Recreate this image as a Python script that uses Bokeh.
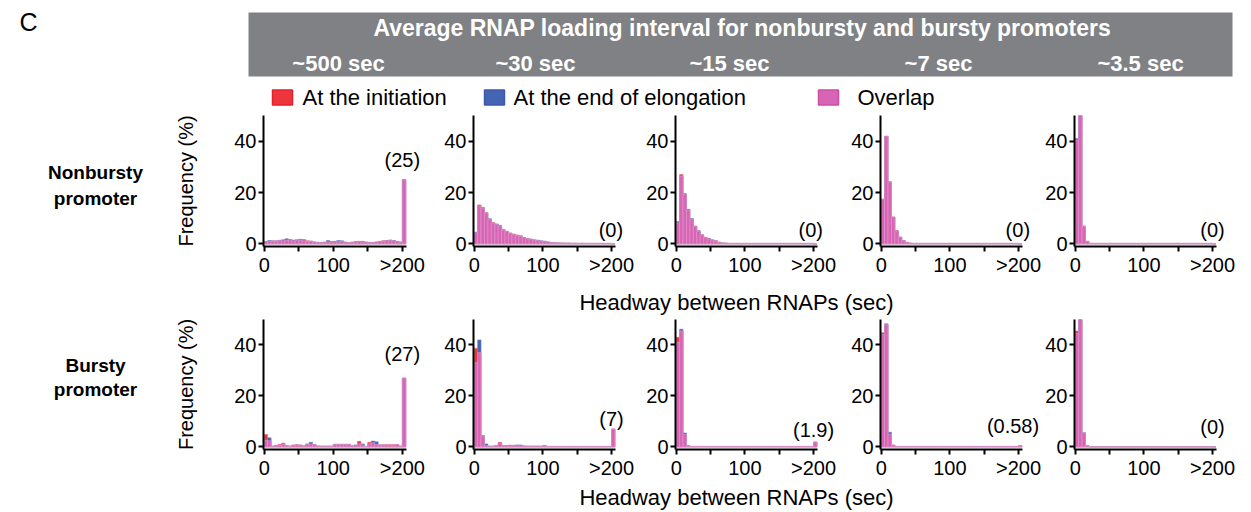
import numpy as np
from bokeh.plotting import figure
from bokeh.layouts import row, column
from bokeh.models import Range1d, FixedTicker, Label
from bokeh.embed import file_html
from bokeh.resources import INLINE
from bokeh.core.properties import value

FONT = "Liberation Sans"
RED = "#ee343c"
BLUE = "#4565b4"
PINK = "#d865b3"

# ---------------- data ----------------
bin_left = list(range(0, 205, 5))          # 5-sec bins, last bin = ">200"
x_tick_values = [0, 50, 100, 150, 200]
x_tick_labels = ["0", "", "100", "", ">200"]
y_tick_values = [0, 20, 40]

header_title = "Average RNAP loading interval  for nonbursty and bursty promoters"
loading_intervals = ["~500 sec", "~30 sec", "~15 sec", "~7 sec", "~3.5 sec"]
promoter_rows = [["Nonbursty", "promoter"], ["Bursty", "promoter"]]
legend_labels = ["At the initiation", "At the end of elongation", "Overlap"]
x_label = "Headway between RNAPs (sec)"
y_label = "Frequency (%)"

# nonbursty promoter, initiation (red) and end of elongation (blue), % per bin
nb500_init = [0.8,1.0,1.2,1.0,1.3,1.2,1.5,1.6,1.2,1.4,1.8,1.7,1.2,1.0,0.8,0.6,0.6,0.7,0.8,0.7,
              0.8,0.9,0.9,0.6,0.5,0.7,0.9,1.0,1.0,0.8,0.6,0.6,0.7,1.0,1.2,1.3,1.5,1.2,0.8,0.6,25.0]
nb500_end  = [0.9,1.3,1.1,1.2,1.4,1.6,2.0,1.7,1.5,1.6,1.3,1.2,1.0,1.1,0.7,0.6,0.5,0.6,1.3,0.9,
              1.0,1.3,1.2,0.7,0.5,0.6,0.8,0.9,0.7,0.6,0.5,0.4,0.7,0.9,1.1,1.2,1.4,1.3,1.0,0.8,25.0]
nb30_init  = [4.4,15.2,14.0,12.2,9.6,8.3,7.6,6.8,5.6,4.8,4.3,3.7,3.5,3.2,2.4,2.1,1.8,1.6,1.5,1.1,
              0.9,0.7,0.6,0.5,0.4,0.4,0.3,0.3,0.3,0.2,0.2,0.3,0.2,0.2,0.2,0.2,0.2,0.2,0.2,0.2,0.0]
nb30_end   = [4.6,14.8,14.2,12.0,9.8,8.1,7.8,7.2,5.4,4.9,4.1,3.8,3.3,2.9,2.5,2.0,1.9,1.5,1.3,1.2,
              1.1,0.8,0.5,0.4,0.4,0.3,0.3,0.3,0.2,0.3,0.2,0.2,0.2,0.2,0.2,0.2,0.2,0.2,0.2,0.2,0.0]
nb15_init  = [8.2,27.0,19.6,13.2,9.6,7.0,5.0,3.6,2.6,2.0,1.4,1.3,0.7,0.4,0.3,0.2,0.2,0.2,0.2,0.2,
              0.2,0.2,0.2,0.2,0.2,0.2,0.2,0.2,0.2,0.2,0.2,0.2,0.2,0.2,0.2,0.2,0.2,0.2,0.2,0.2,0.0]
nb15_end   = [8.7,26.4,19.2,13.5,9.9,6.8,5.1,3.5,2.5,2.1,1.6,1.1,0.6,0.4,0.3,0.2,0.2,0.2,0.2,0.2,
              0.2,0.2,0.2,0.2,0.2,0.2,0.2,0.2,0.2,0.2,0.2,0.2,0.2,0.2,0.2,0.2,0.2,0.2,0.2,0.2,0.0]
nb7_init   = [17.5,42.0,24.0,10.5,5.2,2.6,1.3,0.6,0.3,0.2,0.2,0.2,0.2,0.2,0.2,0.2,0.2,0.2,0.2,0.2,
              0.2,0.2,0.2,0.2,0.2,0.2,0.2,0.2,0.2,0.2,0.2,0.2,0.2,0.2,0.2,0.2,0.2,0.2,0.2,0.2,0.0]
nb7_end    = [17.3,41.8,24.2,10.4,5.0,2.7,1.2,0.6,0.3,0.2,0.2,0.2,0.2,0.2,0.2,0.2,0.2,0.2,0.2,0.2,
              0.2,0.2,0.2,0.2,0.2,0.2,0.2,0.2,0.2,0.2,0.2,0.2,0.2,0.2,0.2,0.2,0.2,0.2,0.2,0.2,0.0]
nb35_init  = [40.5,52.0,7.0,1.0,0.2,0.2,0.2,0.2,0.2,0.2,0.2,0.2,0.2,0.2,0.2,0.2,0.2,0.2,0.2,0.2,
              0.2,0.2,0.2,0.2,0.2,0.2,0.2,0.2,0.2,0.2,0.2,0.2,0.2,0.2,0.2,0.2,0.2,0.2,0.2,0.2,0.0]
nb35_end   = [41.0,52.0,6.8,1.0,0.2,0.2,0.2,0.2,0.2,0.2,0.2,0.2,0.2,0.2,0.2,0.2,0.2,0.2,0.2,0.2,
              0.2,0.2,0.2,0.2,0.2,0.2,0.2,0.2,0.2,0.2,0.2,0.2,0.2,0.2,0.2,0.2,0.2,0.2,0.2,0.2,0.0]

# bursty promoter
b500_init  = [4.9,2.4,0.3,0.3,1.0,1.5,0.5,0.3,0.8,0.9,0.7,0.5,1.2,1.2,0.9,0.4,0.3,0.3,0.3,0.3,
              1.0,1.0,1.0,1.0,1.0,0.5,0.6,2.2,0.8,0.2,1.8,1.6,1.0,0.8,0.8,0.9,0.9,0.9,0.9,0.3,27.0]
b500_end   = [2.6,3.6,0.3,0.6,0.6,1.0,0.5,0.3,0.5,0.7,0.7,0.3,1.0,1.8,1.0,0.4,0.3,0.3,0.3,0.3,
              1.0,1.0,1.0,1.0,1.0,0.5,0.8,1.2,1.2,0.2,1.2,2.3,2.0,0.8,0.8,0.6,0.6,0.6,0.9,0.3,27.0]
b30_init   = [38.7,37.0,4.5,0.5,0.3,0.3,0.5,1.8,0.5,0.5,0.7,0.6,0.5,0.5,0.4,0.3,0.3,0.3,0.3,0.3,
              0.6,0.2,0.2,0.2,0.2,0.2,0.2,0.2,0.2,0.2,0.2,0.2,0.2,0.2,0.2,0.2,0.2,0.2,0.2,0.2,7.0]
b30_end    = [33.0,42.0,4.2,1.2,0.3,0.3,0.5,1.5,0.5,0.5,0.5,0.6,0.8,0.8,0.4,0.3,0.3,0.3,0.3,0.3,
              0.3,0.2,0.2,0.2,0.2,0.2,0.2,0.2,0.2,0.2,0.2,0.2,0.2,0.2,0.2,0.2,0.2,0.2,0.2,0.2,7.0]
b15_init   = [43.0,45.5,5.0,0.5,0.2,0.2,0.2,0.2,0.2,0.2,0.2,0.2,0.2,0.2,0.2,0.2,0.2,0.2,0.2,0.2,
              0.2,0.2,0.2,0.2,0.2,0.2,0.2,0.2,0.2,0.2,0.2,0.2,0.2,0.2,0.2,0.2,0.2,0.2,0.2,0.2,1.9]
b15_end    = [41.0,46.2,5.5,0.5,0.2,0.2,0.2,0.2,0.2,0.2,0.2,0.2,0.2,0.2,0.2,0.2,0.2,0.2,0.2,0.2,
              0.2,0.2,0.2,0.2,0.2,0.2,0.2,0.2,0.2,0.2,0.2,0.2,0.2,0.2,0.2,0.2,0.2,0.2,0.2,0.2,1.9]
b7_init    = [44.8,48.0,5.0,0.7,0.2,0.2,0.2,0.2,0.2,0.2,0.2,0.2,0.2,0.2,0.2,0.2,0.2,0.2,0.2,0.2,
              0.2,0.2,0.2,0.2,0.2,0.2,0.2,0.2,0.2,0.2,0.2,0.2,0.2,0.2,0.2,0.2,0.2,0.2,0.2,0.2,0.58]
b7_end     = [44.0,48.3,5.8,0.7,0.2,0.2,0.2,0.2,0.2,0.2,0.2,0.2,0.2,0.2,0.2,0.2,0.2,0.2,0.2,0.2,
              0.2,0.2,0.2,0.2,0.2,0.2,0.2,0.2,0.2,0.2,0.2,0.2,0.2,0.2,0.2,0.2,0.2,0.2,0.2,0.2,0.58]
b35_init   = [45.5,51.0,5.5,0.5,0.1,0.1,0.1,0.1,0.1,0.1,0.1,0.1,0.1,0.1,0.1,0.1,0.1,0.1,0.1,0.1,
              0.1,0.1,0.1,0.1,0.1,0.1,0.1,0.1,0.1,0.1,0.1,0.1,0.1,0.1,0.1,0.1,0.1,0.1,0.1,0.1,0.0]
b35_end    = [44.5,52.0,5.6,0.5,0.1,0.1,0.1,0.1,0.1,0.1,0.1,0.1,0.1,0.1,0.1,0.1,0.1,0.1,0.1,0.1,
              0.1,0.1,0.1,0.1,0.1,0.1,0.1,0.1,0.1,0.1,0.1,0.1,0.1,0.1,0.1,0.1,0.1,0.1,0.1,0.1,0.0]

nonbursty_notes = ["(25)", "(0)", "(0)", "(0)", "(0)"]
bursty_notes = ["(27)", "(7)", "(1.9)", "(0.58)", "(0)"]

nonbursty_series = [(nb500_init, nb500_end), (nb30_init, nb30_end), (nb15_init, nb15_end),
                    (nb7_init, nb7_end), (nb35_init, nb35_end)]
bursty_series = [(b500_init, b500_end), (b30_init, b30_end), (b15_init, b15_end),
                 (b7_init, b7_end), (b35_init, b35_end)]

# ---------------- layout constants ----------------
TOTAL_W = 1245
HEADER_H = 113
ROWLABEL_W = 160
PANEL_W = [281, 202, 205, 194, 203]
PANEL_BL = [103, 31, 31, 31, 31]
ROW_H = [167, 165]
ROW_BT = [2, 3]
ROW_BB = [34, 31]
STRIP_H = [36, 30]
X_START, X_AXIS_END = -1.0, 206.0
PX_PER_UNIT = 143.0 / (X_AXIS_END - X_START)

nonbursty_note_pos = [(200, 32.8), (199, 5.6), (196, 5.6), (199, 5.6), (200, 5.6)]
bursty_note_pos = [(200, 36.5), (200, 10.8), (200, 6.5), (192, 8.1), (200, 7.7)]


def style_axes(p, show_ylabel):
    for ax in (p.xaxis[0], p.yaxis[0]):
        ax.axis_line_width = 2
        ax.axis_line_color = "black"
        ax.major_tick_line_width = 2
        ax.major_tick_line_color = "black"
        ax.major_tick_out = 5
        ax.major_tick_in = 0
        ax.minor_tick_line_color = None
        ax.major_label_text_font = FONT
        ax.major_label_text_font_size = "20px"
        ax.major_label_text_color = "black"
        ax.major_label_standoff = 2
        ax.axis_label_text_font = FONT
        ax.axis_label_text_font_style = "normal"
        ax.axis_label_text_color = "black"
    p.xaxis[0].ticker = FixedTicker(ticks=x_tick_values)
    p.xaxis[0].major_label_overrides = dict(zip(x_tick_values, x_tick_labels))
    p.xaxis[0].bounds = (X_START, X_AXIS_END)
    p.yaxis[0].ticker = FixedTicker(ticks=y_tick_values)
    if show_ylabel:
        p.yaxis[0].axis_label = y_label
        p.yaxis[0].axis_label_text_font_size = "20px"
        p.yaxis[0].axis_label_standoff = 34


def make_panel(i, r, init, end, note, note_pos):
    frame_w = PANEL_W[i] - PANEL_BL[i]
    x_end = X_START + frame_w / PX_PER_UNIT
    p = figure(width=PANEL_W[i], height=ROW_H[r], title=None,
               x_range=Range1d(X_START, x_end), y_range=Range1d(-1, 50),
               output_backend="svg", toolbar_location=None,
               min_border_left=PANEL_BL[i], min_border_right=0,
               min_border_top=ROW_BT[r], min_border_bottom=ROW_BB[r])
    p.outline_line_color = None
    p.grid.visible = False
    p.background_fill_color = "white"
    xc = np.array(bin_left) + 2.5
    a = np.array(init)
    b = np.array(end)
    both = np.minimum(a, b)
    p.vbar(x=xc, top=a, bottom=0, width=5, fill_color=RED, line_color="#f06a70", line_width=0.6)
    p.vbar(x=xc, top=b, bottom=0, width=5, fill_color=BLUE, line_color="#6d86c6", line_width=0.6)
    p.vbar(x=xc, top=both, bottom=0, width=5, fill_color=PINK, line_color="#e79ad0", line_width=0.6)
    style_axes(p, i == 0)
    p.add_layout(Label(x=note_pos[0], y=note_pos[1], text=note, text_align="center",
                       text_baseline="middle", text_font=FONT, text_font_size="20px",
                       text_color="black"))
    return p


def pixel_fig(w, h, bt=0, bb=0):
    fh = h - bt - bb
    f = figure(width=w, height=h, title=None, x_range=Range1d(0, w), y_range=Range1d(fh, 0),
               output_backend="svg", toolbar_location=None,
               x_axis_location=None, y_axis_location=None,
               min_border_left=0, min_border_right=0, min_border_top=bt, min_border_bottom=bb)
    f.outline_line_color = None
    f.grid.visible = False
    return f


# ---------------- header ----------------
hdr = pixel_fig(TOTAL_W, HEADER_H)
hdr.text(x=[28], y=[21], text=["C"], text_font=value(FONT), text_font_size="25px",
         text_align="center", text_baseline="middle", text_color="black")
hdr.quad(left=[248], right=[1232], top=[12], bottom=[76], fill_color="#808184", line_color=None)
hdr.text(x=[745], y=[27], text=[header_title], text_font=value(FONT), text_font_size="23px",
         text_font_style="bold", text_align="center", text_baseline="middle", text_color="white")
hdr.text(x=[338, 535, 729, 938, 1140], y=[63] * 5, text=loading_intervals, text_font=value(FONT),
         text_font_size="22px", text_font_style="bold", text_align="center",
         text_baseline="middle", text_color="white")
hdr.rect(x=[282, 494, 828], y=[97] * 3, width=20, height=15,
         fill_color=[RED, BLUE, PINK], line_color=["#e4202a", "#3b5aa8", "#cc4ea3"], line_width=1.5)
hdr.text(x=[302, 513, 857], y=[97] * 3, text=legend_labels, text_font=value(FONT),
         text_font_size="22px", text_align="left", text_baseline="middle", text_color="black")

# ---------------- rows ----------------
parts = [hdr]
label_ys = [[57, 83], [46, 71]]      # measured from the top of each row's plot frame
strip_ys = [22, 16]
for r, (series, notes, npos) in enumerate([(nonbursty_series, nonbursty_notes, nonbursty_note_pos),
                                           (bursty_series, bursty_notes, bursty_note_pos)]):
    lab = pixel_fig(ROWLABEL_W, ROW_H[r], ROW_BT[r], ROW_BB[r])
    lab.text(x=[95, 95], y=label_ys[r], text=promoter_rows[r], text_font=value(FONT),
             text_font_size="19px", text_font_style="bold", text_align="center",
             text_baseline="middle", text_color="black")
    panels = [lab]
    for i, (a, b) in enumerate(series):
        panels.append(make_panel(i, r, a, b, notes[i], npos[i]))
    parts.append(row(*panels, spacing=0))
    strip = pixel_fig(TOTAL_W, STRIP_H[r])
    strip.text(x=[736], y=[strip_ys[r]], text=[x_label], text_font=value(FONT),
               text_font_size="22px", text_align="center", text_baseline="middle",
               text_color="black")
    parts.append(strip)

layout = column(*parts, spacing=0)

open("out.html", "w").write(file_html(layout, INLINE))
